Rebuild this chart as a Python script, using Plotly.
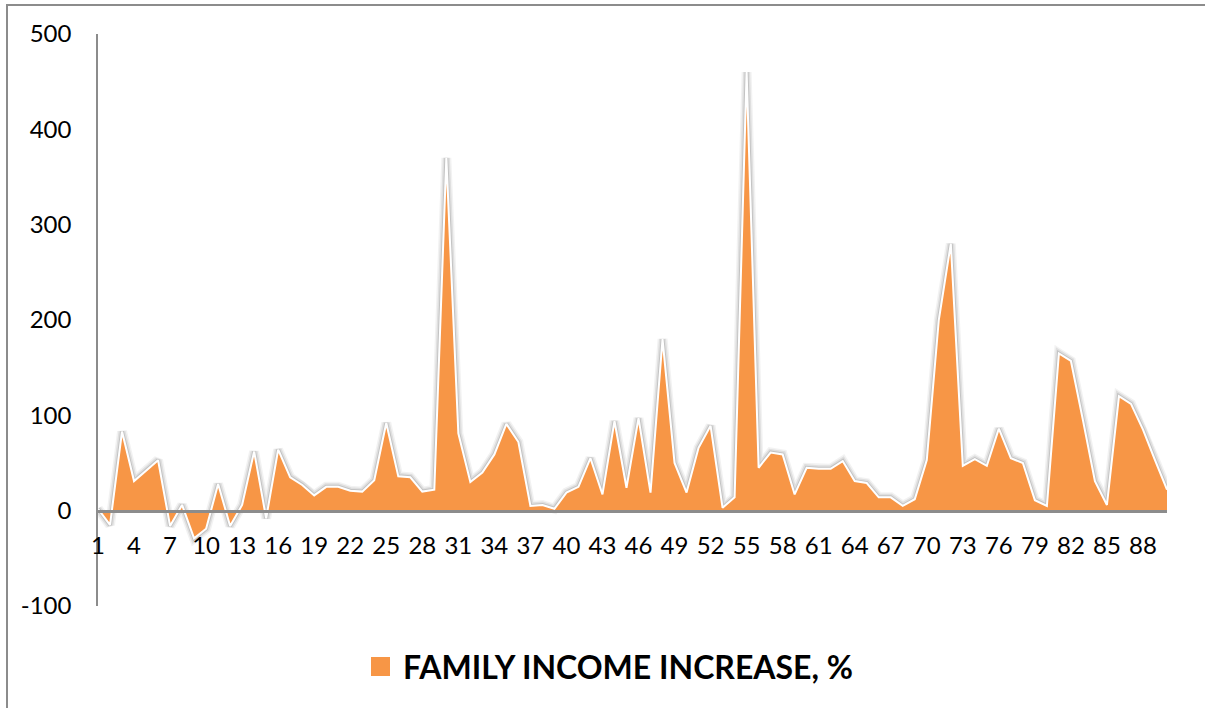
import plotly.graph_objects as go

# Family income increase (%) for each of 90 households
households = list(range(1, 91))
income_increase = [
    2, -15, 83, 31, 42, 53, -16, 6, -29, -19,
    28, -16, 6, 62, -8, 64, 35, 27, 16, 25,
    25, 21, 20, 32, 92, 36, 35, 20, 22, 370,
    81, 30, 40, 59, 91, 72, 5, 6, 2, 19,
    25, 55, 17, 94, 24, 97, 19, 180, 50, 19,
    66, 89, 3, 14, 460, 45, 61, 59, 17, 45,
    44, 44, 52, 31, 29, 14, 14, 5, 12, 53,
    200, 280, 47, 54, 47, 86, 55, 50, 11, 5,
    165, 157, 95, 31, 6, 120, 112, 85, 53, 22,
]
x_ticks = list(range(1, 91, 3))
y_ticks = [-100, 0, 100, 200, 300, 400, 500]
series_name = "FAMILY INCOME INCREASE, %"

ORANGE = "#F79646"
AXIS_GRAY = "#8C8C8C"
FONT = "Lato"

W, H = 1205, 708
L, R, T, B = 98, 38, 34, 102

fig = go.Figure()

# soft glow beneath the area outline
for width, alpha in [(10, 0.05), (7, 0.08), (4, 0.12)]:
    fig.add_trace(go.Scatter(
        x=households, y=income_increase, mode="lines",
        line=dict(color=f"rgba(0,0,0,{alpha})", width=width),
        hoverinfo="skip", showlegend=False,
    ))

# the area itself, with a thin white outline
fig.add_trace(go.Scatter(
    x=households, y=income_increase, mode="lines",
    fill="tozeroy", fillcolor=ORANGE,
    line=dict(color="white", width=2),
    name=series_name, showlegend=False,
))

y_min, y_max = y_ticks[0], y_ticks[-1]
zero_pos = (0 - y_min) / (y_max - y_min)

fig.update_layout(
    width=W, height=H,
    margin=dict(l=L, r=R, t=T, b=B),
    paper_bgcolor="white", plot_bgcolor="white",
    font=dict(family=FONT, size=24, color="#000000"),
    showlegend=False,
    xaxis=dict(
        range=[households[0], households[-1]],
        tickmode="array", tickvals=x_ticks, ticktext=[str(v) for v in x_ticks],
        showgrid=False, zeroline=False,
        showline=True, linecolor=AXIS_GRAY, linewidth=3,
        anchor="free", position=zero_pos,
        ticks="", ticklabelstandoff=13,
        tickfont=dict(family=FONT, size=24),
    ),
    yaxis=dict(
        range=[y_min, y_max],
        tickmode="array", tickvals=y_ticks, ticktext=[str(v) for v in y_ticks],
        showgrid=False, zeroline=False,
        showline=True, linecolor=AXIS_GRAY, linewidth=1.5,
        ticks="", ticklabelstandoff=20,
        tickfont=dict(family=FONT, size=24),
    ),
)

def px_to_paper_x(px):
    return (px - L) / (W - L - R)

def px_to_paper_y(py):
    return (H - B - py) / (H - T - B)

# outer chart border
fig.add_shape(
    type="rect", xref="paper", yref="paper",
    x0=px_to_paper_x(7), x1=px_to_paper_x(1212),
    y0=px_to_paper_y(716), y1=px_to_paper_y(5),
    line=dict(color="#8C8C8C", width=2), fillcolor="rgba(0,0,0,0)",
    layer="below",
)

# legend: swatch and label below the plot
fig.add_shape(
    type="rect", xref="paper", yref="paper",
    x0=px_to_paper_x(371), x1=px_to_paper_x(390),
    y0=px_to_paper_y(676), y1=px_to_paper_y(657),
    line=dict(width=0), fillcolor=ORANGE,
)
fig.add_annotation(
    xref="paper", yref="paper",
    x=px_to_paper_x(401), y=px_to_paper_y(666),
    xanchor="left", yanchor="middle",
    text=f"<b>{series_name}</b>", showarrow=False,
    font=dict(family=FONT, size=32, color="#000000"),
)

fig.write_html("out.html")
